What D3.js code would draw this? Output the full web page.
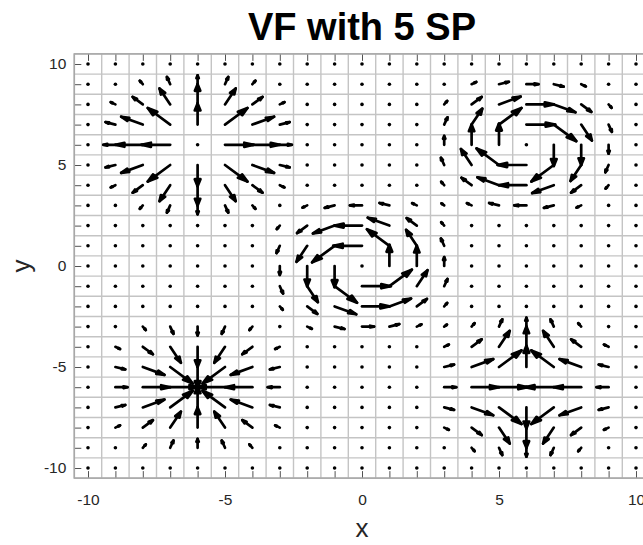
<!DOCTYPE html>
<html>
<head>
<meta charset="utf-8">
<script src="https://cdn.jsdelivr.net/npm/d3@7"></script>
<style>
  body { margin: 0; background: #fff; }
  svg { display: block; font-family: "Liberation Sans", Arial, Helvetica, sans-serif; }
</style>
</head>
<body>
<svg id="chart" width="643" height="545"></svg>
<script>
// ---- data -------------------------------------------------------------
// sample positions of the vector field (both axes)
const samplePositions = [-10,-9,-8,-7,-6,-5,-4,-3,-2,-1,0,1,2,3,4,5,6,7,8,9,10];
// labelled ticks
const xTickValues = [-10, -5, 0, 5, 10];
const yTickValues = [-10, -5, 0, 5, 10];

// the five singular points
const spNames = ["source", "vortexCW", "vortexCCW", "sink", "saddle"];
const spX = [-6, 6, 0, -6, 6];
const spY = [6, 6, 0, -6, -6];

// local 7x7 patches of (u, v) around each singular point
// rows: dy = +3 ... -3, columns: dx = -3 ... +3
const sourceU = [
  [-0.05,-0.11,-0.12, 0, 0.12, 0.11, 0.05],
  [-0.17,-0.37,-0.39, 0, 0.39, 0.37, 0.17],
  [-0.36,-0.79,-0.82, 0, 0.82, 0.79, 0.36],
  [-0.44,-1.00,-1.05, 0, 1.05, 1.00, 0.44],
  [-0.36,-0.79,-0.82, 0, 0.82, 0.79, 0.36],
  [-0.17,-0.37,-0.39, 0, 0.39, 0.37, 0.17],
  [-0.05,-0.11,-0.12, 0, 0.12, 0.11, 0.05]
];
const sourceV = [
  [ 0.05, 0.17, 0.36, 0.44, 0.36, 0.17, 0.05],
  [ 0.11, 0.37, 0.79, 1.00, 0.79, 0.37, 0.11],
  [ 0.12, 0.39, 0.82, 1.05, 0.82, 0.39, 0.12],
  [ 0, 0, 0, 0, 0, 0, 0],
  [-0.12,-0.39,-0.82,-1.05,-0.82,-0.39,-0.12],
  [-0.11,-0.37,-0.79,-1.00,-0.79,-0.37,-0.11],
  [-0.05,-0.17,-0.36,-0.44,-0.36,-0.17,-0.05]
];
const vortexCWU = [
  [ 0.05, 0.17, 0.36, 0.44, 0.36, 0.17, 0.05],
  [ 0.11, 0.37, 0.79, 1.00, 0.79, 0.37, 0.11],
  [ 0.12, 0.39, 0.82, 1.05, 0.82, 0.39, 0.12],
  [ 0, 0, 0, 0, 0, 0, 0],
  [-0.12,-0.39,-0.82,-1.05,-0.82,-0.39,-0.12],
  [-0.11,-0.37,-0.79,-1.00,-0.79,-0.37,-0.11],
  [-0.05,-0.17,-0.36,-0.44,-0.36,-0.17,-0.05]
];
const vortexCWV = [
  [ 0.05, 0.11, 0.12, 0,-0.12,-0.11,-0.05],
  [ 0.17, 0.37, 0.39, 0,-0.39,-0.37,-0.17],
  [ 0.36, 0.79, 0.82, 0,-0.82,-0.79,-0.36],
  [ 0.44, 1.00, 1.05, 0,-1.05,-1.00,-0.44],
  [ 0.36, 0.79, 0.82, 0,-0.82,-0.79,-0.36],
  [ 0.17, 0.37, 0.39, 0,-0.39,-0.37,-0.17],
  [ 0.05, 0.11, 0.12, 0,-0.12,-0.11,-0.05]
];
const vortexCCWU = [
  [-0.05,-0.17,-0.36,-0.44,-0.36,-0.17,-0.05],
  [-0.11,-0.37,-0.79,-1.00,-0.79,-0.37,-0.11],
  [-0.12,-0.39,-0.82,-1.05,-0.82,-0.39,-0.12],
  [ 0, 0, 0, 0, 0, 0, 0],
  [ 0.12, 0.39, 0.82, 1.05, 0.82, 0.39, 0.12],
  [ 0.11, 0.37, 0.79, 1.00, 0.79, 0.37, 0.11],
  [ 0.05, 0.17, 0.36, 0.44, 0.36, 0.17, 0.05]
];
const vortexCCWV = [
  [-0.05,-0.11,-0.12, 0, 0.12, 0.11, 0.05],
  [-0.17,-0.37,-0.39, 0, 0.39, 0.37, 0.17],
  [-0.36,-0.79,-0.82, 0, 0.82, 0.79, 0.36],
  [-0.44,-1.00,-1.05, 0, 1.05, 1.00, 0.44],
  [-0.36,-0.79,-0.82, 0, 0.82, 0.79, 0.36],
  [-0.17,-0.37,-0.39, 0, 0.39, 0.37, 0.17],
  [-0.05,-0.11,-0.12, 0, 0.12, 0.11, 0.05]
];
const sinkU = [
  [ 0.05, 0.11, 0.12, 0,-0.12,-0.11,-0.05],
  [ 0.17, 0.37, 0.39, 0,-0.39,-0.37,-0.17],
  [ 0.36, 0.79, 0.82, 0,-0.82,-0.79,-0.36],
  [ 0.44, 1.00, 1.05, 0,-1.05,-1.00,-0.44],
  [ 0.36, 0.79, 0.82, 0,-0.82,-0.79,-0.36],
  [ 0.17, 0.37, 0.39, 0,-0.39,-0.37,-0.17],
  [ 0.05, 0.11, 0.12, 0,-0.12,-0.11,-0.05]
];
const sinkV = [
  [-0.05,-0.17,-0.36,-0.44,-0.36,-0.17,-0.05],
  [-0.11,-0.37,-0.79,-1.00,-0.79,-0.37,-0.11],
  [-0.12,-0.39,-0.82,-1.05,-0.82,-0.39,-0.12],
  [ 0, 0, 0, 0, 0, 0, 0],
  [ 0.12, 0.39, 0.82, 1.05, 0.82, 0.39, 0.12],
  [ 0.11, 0.37, 0.79, 1.00, 0.79, 0.37, 0.11],
  [ 0.05, 0.17, 0.36, 0.44, 0.36, 0.17, 0.05]
];
const saddleU = [
  [ 0.05, 0.11, 0.12, 0,-0.12,-0.11,-0.05],
  [ 0.17, 0.37, 0.39, 0,-0.39,-0.37,-0.17],
  [ 0.36, 0.79, 0.82, 0,-0.82,-0.79,-0.36],
  [ 0.44, 1.00, 1.05, 0,-1.05,-1.00,-0.44],
  [ 0.36, 0.79, 0.82, 0,-0.82,-0.79,-0.36],
  [ 0.17, 0.37, 0.39, 0,-0.39,-0.37,-0.17],
  [ 0.05, 0.11, 0.12, 0,-0.12,-0.11,-0.05]
];
const saddleV = [
  [ 0.05, 0.17, 0.36, 0.44, 0.36, 0.17, 0.05],
  [ 0.11, 0.37, 0.79, 1.00, 0.79, 0.37, 0.11],
  [ 0.12, 0.39, 0.82, 1.05, 0.82, 0.39, 0.12],
  [ 0, 0, 0, 0, 0, 0, 0],
  [-0.12,-0.39,-0.82,-1.05,-0.82,-0.39,-0.12],
  [-0.11,-0.37,-0.79,-1.00,-0.79,-0.37,-0.11],
  [-0.05,-0.17,-0.36,-0.44,-0.36,-0.17,-0.05]
];
const patchU = [sourceU, vortexCWU, vortexCCWU, sinkU, saddleU];
const patchV = [sourceV, vortexCWV, vortexCCWV, sinkV, saddleV];
const patchHalf = 3;

// ---- layout -----------------------------------------------------------
const svg = d3.select("#chart");
const x = d3.scaleLinear().domain([-10.5, 10.5]).range([74.3, 649.7]);
const y = d3.scaleLinear().domain([-10.5, 10.5]).range([478.1, 53.9]);
const textColor = "#262626";

// assemble the field on the sample grid
const field = [];
samplePositions.forEach(py => {
  samplePositions.forEach(px => {
    let u = 0, v = 0;
    spNames.forEach((name, k) => {
      const dx = px - spX[k], dy = py - spY[k];
      if (Math.abs(dx) <= patchHalf && Math.abs(dy) <= patchHalf) {
        u += patchU[k][patchHalf - dy][dx + patchHalf];
        v += patchV[k][patchHalf - dy][dx + patchHalf];
      }
    });
    field.push({ x: px, y: py, u, v });
  });
});

// cell grid lines between samples
const cellEdges = d3.range(-10.5, 10.6, 1);
const gridG = svg.append("g").attr("stroke", "#c4c4c4").attr("stroke-width", 1.4);
gridG.selectAll("line.v").data(cellEdges).join("line")
  .attr("x1", d => x(d)).attr("x2", d => x(d))
  .attr("y1", y(-10.5)).attr("y2", y(10.5));
gridG.selectAll("line.h").data(cellEdges).join("line")
  .attr("y1", d => y(d)).attr("y2", d => y(d))
  .attr("x1", x(-10.5)).attr("x2", x(10.5));

// inward ticks at every sample
const tickLen = 7;
const bottomTicks = d3.axisBottom(x).tickValues(samplePositions).tickSize(-tickLen).tickFormat("");
const topTicks = d3.axisTop(x).tickValues(samplePositions).tickSize(-tickLen).tickFormat("");
const leftTicks = d3.axisLeft(y).tickValues(samplePositions).tickSize(-tickLen).tickFormat("");
[[bottomTicks, `translate(0,${y(-10.5)})`], [topTicks, `translate(0,${y(10.5)})`],
 [leftTicks, `translate(${x(-10.5)},0)`]].forEach(([ax, tr]) => {
  const g = svg.append("g").attr("transform", tr).call(ax);
  g.select(".domain").remove();
  g.selectAll(".tick line").attr("stroke", textColor).attr("stroke-width", 0.8);
});

// box
svg.append("rect")
  .attr("x", x(-10.5)).attr("y", y(10.5))
  .attr("width", x(10.5) - x(-10.5)).attr("height", y(-10.5) - y(10.5))
  .attr("fill", "none").attr("stroke", "#a8a8a8").attr("stroke-width", 1.6);

// tick labels
const xLab = svg.append("g").attr("transform", `translate(0,${y(-10.5)})`)
  .call(d3.axisBottom(x).tickValues(xTickValues).tickSize(0).tickPadding(16).tickFormat(d => String(d)));
const yLab = svg.append("g").attr("transform", `translate(${x(-10.5)},0)`)
  .call(d3.axisLeft(y).tickValues(yTickValues).tickSize(0).tickPadding(8).tickFormat(d => String(d)));
[xLab, yLab].forEach(g => {
  g.select(".domain").remove();
  g.selectAll("text").attr("fill", textColor).style("font-size", "15.5px")
    .style("font-family", '"Liberation Sans", Arial, sans-serif');
});

// vector arrows (tail at the sample point, filled head)
const alpha = 0.33, beta = 0.3, dotLimit = 0.12;
const arrows = field.filter(d => Math.hypot(d.u, d.v) >= dotLimit);
const dots = field.filter(d => Math.hypot(d.u, d.v) < dotLimit);
const arrowG = svg.append("g").attr("stroke", "#000")
  .attr("stroke-width", 2.7).attr("stroke-linecap", "round").attr("stroke-linejoin", "round");
arrowG.selectAll("line.shaft").data(arrows).join("line")
  .attr("x1", d => x(d.x)).attr("y1", d => y(d.y))
  .attr("x2", d => x(d.x + d.u)).attr("y2", d => y(d.y + d.v));
arrowG.selectAll("path.head").data(arrows).join("path")
  .attr("fill", "#000")
  .attr("d", d => {
    const tx = d.x + d.u, ty = d.y + d.v;
    const p1 = [tx - alpha * (d.u + beta * d.v), ty - alpha * (d.v - beta * d.u)];
    const p2 = [tx - alpha * (d.u - beta * d.v), ty - alpha * (d.v + beta * d.u)];
    return `M${x(p1[0])},${y(p1[1])}L${x(tx)},${y(ty)}L${x(p2[0])},${y(p2[1])}Z`;
  });
svg.append("g").selectAll("circle").data(dots).join("circle")
  .attr("cx", d => x(d.x)).attr("cy", d => y(d.y)).attr("r", 1.8).attr("fill", "#000");

// titles
svg.append("text").attr("x", (x(-10.5) + x(10.5)) / 2).attr("y", 40)
  .attr("text-anchor", "middle").attr("font-weight", "bold").attr("font-size", 38)
  .attr("fill", "#000").text("VF with 5 SP");
svg.append("text").attr("x", x(0)).attr("y", 537)
  .attr("text-anchor", "middle").attr("font-size", 26).attr("fill", textColor).text("x");
svg.append("text").attr("transform", `translate(29.5,${y(0)}) rotate(-90)`)
  .attr("text-anchor", "middle").attr("font-size", 26).attr("fill", textColor).text("y");
</script>
</body>
</html>
